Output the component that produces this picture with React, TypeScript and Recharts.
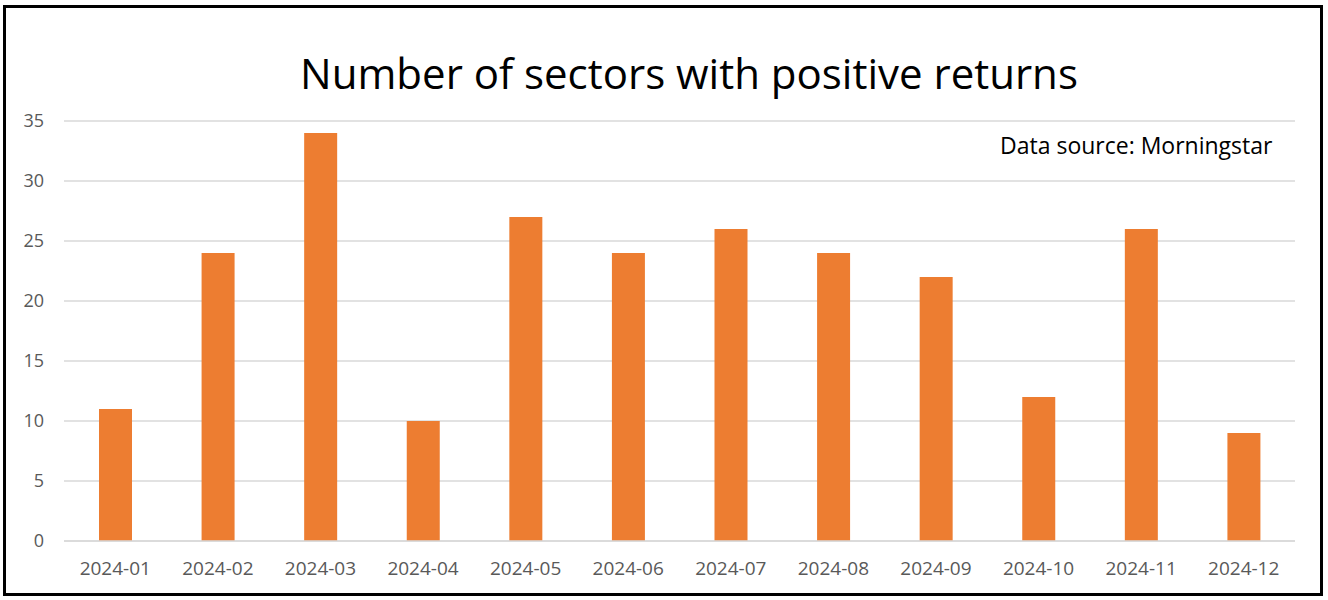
import React from 'react';
import { BarChart, Bar, XAxis, YAxis, CartesianGrid } from 'recharts';

// Monthly count of sectors with positive returns
const months = [
  '2024-01', '2024-02', '2024-03', '2024-04', '2024-05', '2024-06',
  '2024-07', '2024-08', '2024-09', '2024-10', '2024-11', '2024-12',
];
const positiveSectors = [11, 24, 34, 10, 27, 24, 26, 24, 22, 12, 26, 9];
const yTicks = [0, 5, 10, 15, 20, 25, 30, 35];

const chartData = months.map((m, i) => ({ month: m, count: positiveSectors[i] }));

const FONT = '"Open Sans", "Noto Sans", sans-serif';
const TICK_COLOR = '#595959';
const GRID_COLOR = '#d9d9d9';

const App: React.FC = () => {
  return (
    <div
      style={{
        position: 'absolute',
        left: 0,
        top: 0,
        width: 1328,
        height: 600,
        background: '#fff',
        fontFamily: FONT,
      }}
    >
      <div
        style={{
          position: 'absolute',
          left: 3,
          top: 5,
          width: 1320,
          height: 591,
          boxSizing: 'border-box',
          borderWidth: 3,
          borderStyle: 'solid',
          borderColor: '#000000',
        }}
      />
      <div style={{ position: 'absolute', left: 0, top: 0 }}>
        <BarChart
          width={1328}
          height={600}
          data={chartData}
          margin={{ top: 121, right: 33, bottom: 29, left: 14 }}
        >
          <CartesianGrid vertical={false} stroke={GRID_COLOR} strokeWidth={1.5} />
          <XAxis
            dataKey="month"
            height={30}
            axisLine={{ stroke: GRID_COLOR, strokeWidth: 1.5 }}
            tickLine={false}
            tickSize={0}
            tickMargin={21}
            tick={{ fill: TICK_COLOR, fontSize: 19, fontFamily: FONT }}
            interval={0}
          />
          <YAxis
            domain={[0, 35]}
            ticks={yTicks}
            width={50}
            axisLine={false}
            tickLine={false}
            tickSize={0}
            tickMargin={20}
            tick={{ fill: TICK_COLOR, fontSize: 18, fontFamily: FONT }}
          />
          <Bar dataKey="count" fill="#ED7D31" barSize={33} isAnimationActive={false} />
          <rect x={4.5} y={6.5} width={1317} height={588} fill="none" stroke="#000" strokeWidth={3} />
        </BarChart>
      </div>
      <div
        style={{
          position: 'absolute',
          left: 0,
          width: 1378,
          top: 44,
          textAlign: 'center',
          fontSize: 42,
          lineHeight: '58px',
          color: '#000',
        }}
      >
        Number of sectors with positive returns
      </div>
      <div
        style={{
          position: 'absolute',
          left: 1000,
          top: 129,
          fontSize: 23,
          lineHeight: '32px',
          color: '#000',
        }}
      >
        Data source: Morningstar
      </div>
    </div>
  );
};

export default App;
